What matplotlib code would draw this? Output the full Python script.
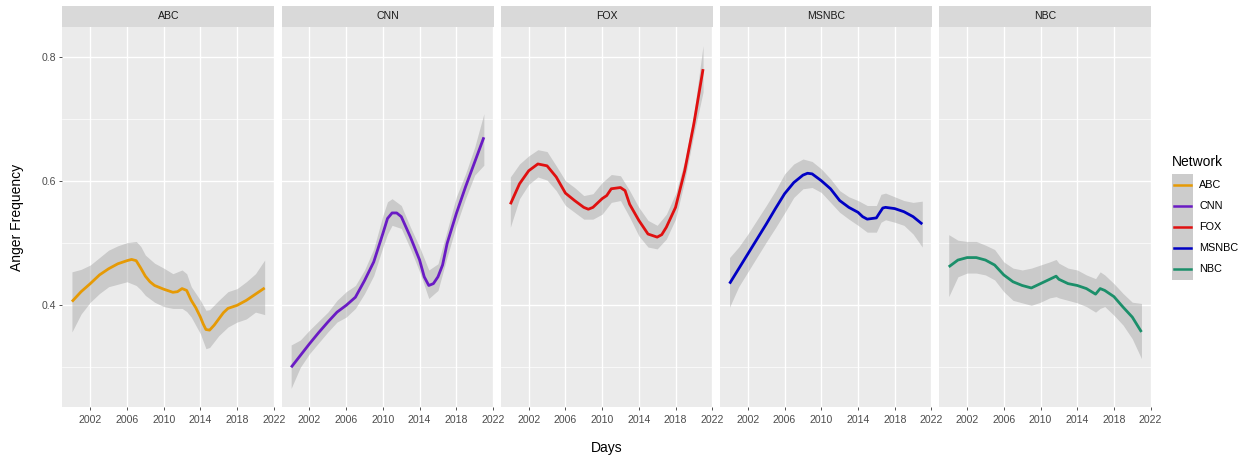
import matplotlib
matplotlib.use("Agg")
import matplotlib.pyplot as plt
from matplotlib.patches import Rectangle
from matplotlib.lines import Line2D

plt.rcParams["font.family"] = ["Liberation Sans", "DejaVu Sans"]

# ---- data -------------------------------------------------------------
networks = ["ABC", "CNN", "FOX", "MSNBC", "NBC"]
colors = ["#E69A05", "#6A1BC4", "#E01010", "#0000C4", "#1B8F6A"]

year_ticks = [2002, 2006, 2010, 2014, 2018, 2022]
value_ticks = [0.4, 0.6, 0.8]
value_minor = [0.3, 0.5, 0.7]

# smoothed fit per network
abc_years = [2000, 2001, 2002, 2003, 2004, 2005, 2006, 2006.5, 2007, 2007.5, 2008, 2008.5,
             2009, 2010, 2011, 2011.5, 2012, 2012.5, 2013, 2013.5, 2014, 2014.3, 2014.6,
             2015, 2015.5, 2016, 2016.5, 2017, 2018, 2019, 2020, 2021]
abc_fit = [0.406, 0.422, 0.435, 0.449, 0.459, 0.467, 0.472, 0.474, 0.472, 0.460, 0.447, 0.438,
           0.432, 0.426, 0.421, 0.422, 0.427, 0.424, 0.408, 0.396, 0.381, 0.370, 0.361,
           0.360, 0.368, 0.378, 0.388, 0.395, 0.400, 0.408, 0.418, 0.428]
abc_band_years = [2000, 2001, 2002, 2003, 2004, 2005, 2006, 2007, 2007.5, 2008, 2009, 2010,
                  2011, 2012, 2012.5, 2013, 2014, 2014.6, 2015, 2016, 2017, 2018, 2019, 2020, 2021]
abc_lower = [0.357, 0.386, 0.405, 0.419, 0.430, 0.434, 0.438, 0.432, 0.425, 0.416, 0.405, 0.398,
             0.395, 0.395, 0.390, 0.381, 0.354, 0.330, 0.332, 0.351, 0.365, 0.373, 0.378, 0.389, 0.385]
abc_upper = [0.454, 0.458, 0.465, 0.477, 0.489, 0.496, 0.501, 0.503, 0.495, 0.481, 0.468, 0.460,
             0.451, 0.457, 0.451, 0.430, 0.408, 0.392, 0.393, 0.408, 0.422, 0.427, 0.438, 0.451, 0.473]

cnn_years = [2000, 2001, 2002, 2003, 2004, 2005, 2006, 2007, 2008, 2009, 2010, 2010.5, 2011,
             2011.5, 2012, 2013, 2014, 2014.5, 2015, 2015.5, 2016, 2016.5, 2017, 2018, 2019,
             2020, 2021]
cnn_fit = [0.300, 0.319, 0.338, 0.356, 0.373, 0.389, 0.400, 0.413, 0.440, 0.470, 0.516, 0.540,
           0.549, 0.549, 0.543, 0.510, 0.473, 0.446, 0.432, 0.435, 0.446, 0.465, 0.500, 0.548,
           0.591, 0.631, 0.671]
cnn_band_years = [2000, 2001, 2002, 2004, 2005, 2006, 2007, 2008, 2009, 2010, 2010.5, 2011,
                  2012, 2013, 2014, 2015, 2016, 2017, 2018, 2019, 2020, 2021]
cnn_lower = [0.266, 0.300, 0.322, 0.357, 0.373, 0.381, 0.395, 0.419, 0.448, 0.494, 0.515, 0.529,
             0.524, 0.491, 0.454, 0.411, 0.424, 0.478, 0.529, 0.572, 0.610, 0.626]
cnn_upper = [0.336, 0.344, 0.360, 0.389, 0.408, 0.422, 0.432, 0.457, 0.491, 0.545, 0.567, 0.572,
             0.561, 0.526, 0.494, 0.457, 0.467, 0.521, 0.575, 0.612, 0.655, 0.709]

fox_years = [2000, 2001, 2002, 2003, 2004, 2005, 2006, 2007, 2008, 2008.5, 2009, 2010, 2010.5,
             2011, 2012, 2012.5, 2013, 2014, 2014.5, 2015, 2016, 2016.5, 2017, 2018, 2019,
             2020, 2021]
fox_fit = [0.563, 0.596, 0.617, 0.628, 0.625, 0.607, 0.581, 0.569, 0.558, 0.555, 0.558, 0.572,
           0.577, 0.588, 0.590, 0.585, 0.563, 0.537, 0.526, 0.515, 0.510, 0.514, 0.526, 0.558,
           0.617, 0.693, 0.781]
fox_band_years = [2000, 2001, 2002, 2003, 2004, 2005, 2006, 2007, 2008, 2009, 2010, 2011, 2012,
                  2013, 2014, 2015, 2016, 2017, 2018, 2019, 2020, 2021]
fox_lower = [0.526, 0.572, 0.595, 0.607, 0.602, 0.585, 0.561, 0.550, 0.539, 0.539, 0.547, 0.566,
             0.569, 0.542, 0.512, 0.494, 0.491, 0.507, 0.539, 0.601, 0.676, 0.744]
fox_upper = [0.607, 0.628, 0.641, 0.651, 0.648, 0.625, 0.601, 0.590, 0.577, 0.580, 0.598, 0.611,
             0.609, 0.585, 0.558, 0.537, 0.529, 0.547, 0.580, 0.633, 0.709, 0.819]

msnbc_years = [2000, 2001, 2002, 2003, 2004, 2005, 2006, 2007, 2008, 2008.5, 2009, 2010, 2011,
               2012, 2013, 2014, 2014.5, 2015, 2016, 2016.3, 2016.7, 2017, 2018, 2019, 2020, 2021]
msnbc_fit = [0.435, 0.459, 0.483, 0.507, 0.531, 0.556, 0.580, 0.598, 0.610, 0.613, 0.612, 0.601,
             0.588, 0.569, 0.558, 0.550, 0.543, 0.539, 0.541, 0.548, 0.557, 0.558, 0.556, 0.551,
             0.543, 0.531]
msnbc_band_years = [2000, 2001, 2002, 2003, 2004, 2005, 2006, 2007, 2008, 2009, 2010, 2011, 2012,
                    2013, 2014, 2015, 2016, 2016.5, 2017, 2018, 2019, 2020, 2021]
msnbc_lower = [0.397, 0.430, 0.454, 0.478, 0.502, 0.525, 0.549, 0.574, 0.588, 0.590, 0.582, 0.566,
               0.550, 0.539, 0.529, 0.518, 0.518, 0.534, 0.538, 0.534, 0.529, 0.515, 0.494]
msnbc_upper = [0.477, 0.494, 0.515, 0.538, 0.561, 0.585, 0.612, 0.628, 0.636, 0.632, 0.620, 0.604,
               0.585, 0.575, 0.569, 0.561, 0.561, 0.579, 0.581, 0.575, 0.569, 0.566, 0.568]

nbc_years = [2000, 2001, 2002, 2003, 2004, 2005, 2006, 2007, 2008, 2009, 2010, 2011, 2011.7,
             2012, 2013, 2014, 2015, 2016, 2016.5, 2017, 2018, 2019, 2020, 2021]
nbc_fit = [0.462, 0.473, 0.477, 0.477, 0.473, 0.465, 0.449, 0.438, 0.432, 0.428, 0.435, 0.442,
           0.447, 0.442, 0.435, 0.432, 0.427, 0.418, 0.427, 0.424, 0.414, 0.397, 0.381, 0.357]
nbc_band_years = [2000, 2001, 2002, 2003, 2004, 2005, 2006, 2007, 2008, 2009, 2010, 2011, 2011.7,
                  2012, 2013, 2014, 2015, 2016, 2016.5, 2017, 2018, 2019, 2020, 2021]
nbc_lower = [0.414, 0.446, 0.452, 0.452, 0.449, 0.441, 0.422, 0.408, 0.404, 0.400, 0.405, 0.412,
             0.414, 0.412, 0.408, 0.404, 0.398, 0.389, 0.395, 0.398, 0.384, 0.368, 0.346, 0.314]
nbc_upper = [0.514, 0.505, 0.503, 0.503, 0.497, 0.490, 0.470, 0.460, 0.457, 0.460, 0.465, 0.470,
             0.474, 0.468, 0.460, 0.457, 0.449, 0.443, 0.454, 0.449, 0.435, 0.419, 0.405, 0.403]

fits = {
    "ABC": (abc_years, abc_fit, abc_band_years, abc_lower, abc_upper),
    "CNN": (cnn_years, cnn_fit, cnn_band_years, cnn_lower, cnn_upper),
    "FOX": (fox_years, fox_fit, fox_band_years, fox_lower, fox_upper),
    "MSNBC": (msnbc_years, msnbc_fit, msnbc_band_years, msnbc_lower, msnbc_upper),
    "NBC": (nbc_years, nbc_fit, nbc_band_years, nbc_lower, nbc_upper),
}

# ---- layout (pixels) --------------------------------------------------
W, H = 1249, 459
fig = plt.figure(figsize=(W / 100, H / 100), dpi=100)
fig.patch.set_facecolor("white")


def fx(x):
    return x / W


def fy(y):
    return 1 - y / H


panel_left0 = 62.3
panel_step = 219.2
panel_w = 212.0
panel_top = 26.7
panel_bottom = 407.3
strip_top = 5.7

x_range = (1998.95, 2022.05)
y_range = (0.2355, 0.8494)

tick_col = "#4D4D4D"
panel_bg = "#EBEBEB"
strip_bg = "#D9D9D9"

for i, (name, col) in enumerate(zip(networks, colors)):
    left = panel_left0 + i * panel_step
    ax = fig.add_axes([fx(left), fy(panel_bottom), panel_w / W, (panel_bottom - panel_top) / H])
    ax.set_facecolor(panel_bg)
    for s in ax.spines.values():
        s.set_visible(False)
    ax.set_xlim(*x_range)
    ax.set_ylim(*y_range)

    for v in value_minor:
        ax.axhline(v, color="white", lw=0.5, zorder=0.5)
    for v in value_ticks:
        ax.axhline(v, color="white", lw=1.0, zorder=0.6)
    for yr in year_ticks:
        ax.axvline(yr, color="white", lw=1.0, zorder=0.6)

    yrs, fit, byrs, lo, hi = fits[name]
    ax.fill_between(byrs, lo, hi, color="#999999", alpha=0.4, lw=0, zorder=1)
    ax.plot(yrs, fit, color=col, lw=2.0, solid_capstyle="butt", solid_joinstyle="round", zorder=2)

    ax.set_xticks(year_ticks)
    ax.set_xticklabels([str(t) for t in year_ticks])
    ax.set_yticks(value_ticks)
    ax.tick_params(axis="both", length=2.2, width=0.6, color="#333333",
                   labelsize=7.6, labelcolor=tick_col, pad=2)
    ax.tick_params(axis="x", pad=3)
    if i == 0:
        ax.set_yticklabels([f"{v:.1f}" for v in value_ticks])
    else:
        ax.tick_params(axis="y", length=0, labelleft=False)

    # facet strip
    fig.patches.append(Rectangle((fx(left), fy(panel_top)), panel_w / W,
                                 (panel_top - strip_top) / H, transform=fig.transFigure,
                                 facecolor=strip_bg, edgecolor="none", zorder=0))
    fig.text(fx(left + panel_w / 2), fy((panel_top + strip_top) / 2), name,
             ha="center", va="center", fontsize=7.6, color="#1A1A1A")

# axis titles
fig.text(fx((panel_left0 + panel_left0 + 4 * panel_step + panel_w) / 2), fy(448), "Days",
         ha="center", va="center", fontsize=10, color="black")
fig.text(fx(16.7), fy((panel_top + panel_bottom) / 2), "Anger Frequency",
         ha="center", va="center", rotation=90, fontsize=10, color="black")

# legend
leg_x = 1171.7
key_top = 174.0
key_h = 21.2
key_w = 21.0
fig.text(fx(leg_x), fy(162), "Network", ha="left", va="center", fontsize=10, color="black")
fig.patches.append(Rectangle((fx(leg_x), fy(key_top + key_h * len(networks))), key_w / W,
                             key_h * len(networks) / H, transform=fig.transFigure,
                             facecolor="#CCCCCC", edgecolor="none"))
for k, (name, col) in enumerate(zip(networks, colors)):
    yc = key_top + key_h * (k + 0.5)
    fig.lines.append(Line2D([fx(leg_x + 2), fx(leg_x + key_w - 2)], [fy(yc), fy(yc)],
                            transform=fig.transFigure, color=col, lw=1.8))
    fig.text(fx(1199.3), fy(yc), name, ha="left", va="center", fontsize=7.8, color="black")

fig.savefig("out.png", dpi=100)
